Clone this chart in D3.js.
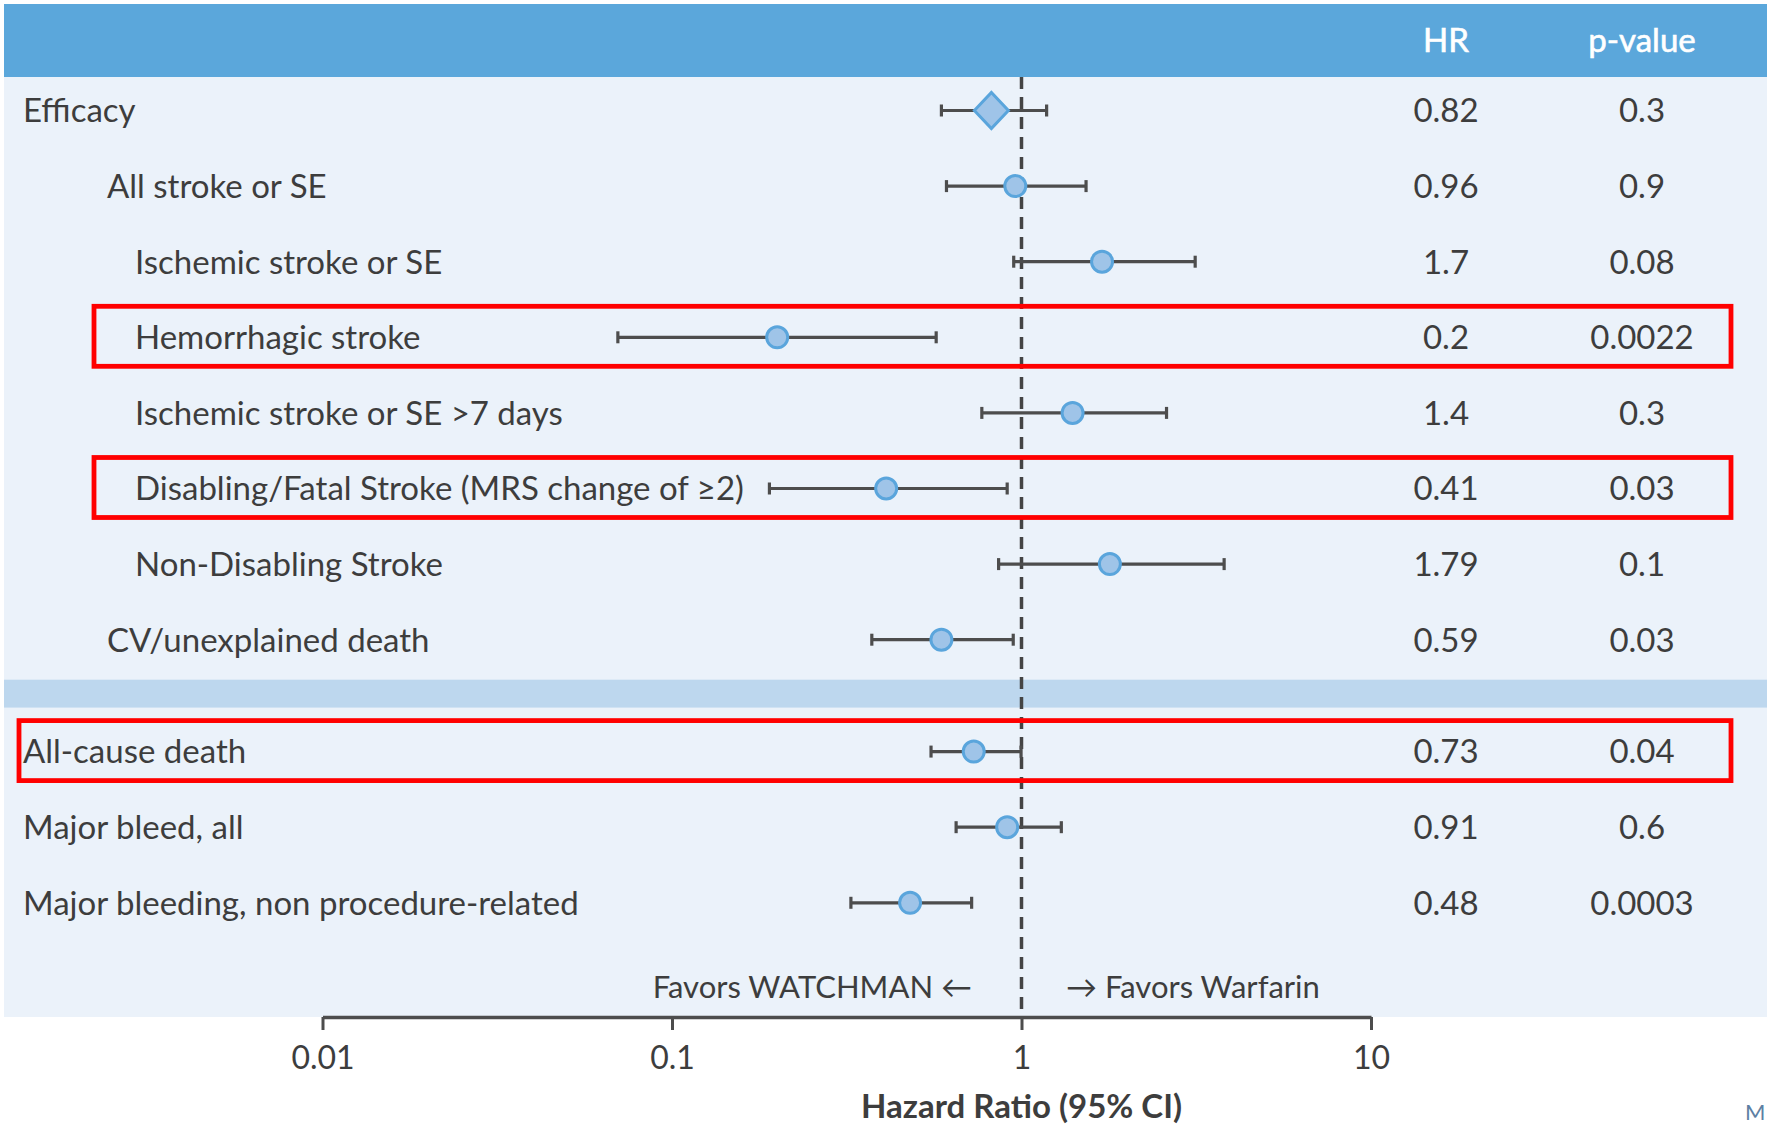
<!DOCTYPE html>
<html>
<head>
<meta charset="utf-8">
<script src="https://cdn.jsdelivr.net/npm/d3@7/dist/d3.min.js"></script>
<style>
  html, body { margin: 0; padding: 0; background: #ffffff; }
  svg { display: block; }
  text { font-family: Lato, "Noto Sans", "Open Sans", sans-serif; }
</style>
</head>
<body>
<svg id="chart" width="1767" height="1124"></svg>
<script>
// Outcomes, WATCHMAN vs warfarin
const outcomes = [
  "Efficacy",
  "All stroke or SE",
  "Ischemic stroke or SE",
  "Hemorrhagic stroke",
  "Ischemic stroke or SE >7 days",
  "Disabling/Fatal Stroke (MRS change of \u22652)",
  "Non-Disabling Stroke",
  "CV/unexplained death",
  "All-cause death",
  "Major bleed, all",
  "Major bleeding, non procedure-related"
];
const indentLevel = [0, 1, 2, 2, 2, 2, 2, 1, 0, 0, 0];
const groupIndex  = [0, 0, 0, 0, 0, 0, 0, 0, 1, 1, 1];
const hrText   = ["0.82", "0.96", "1.7", "0.2", "1.4", "0.41", "1.79", "0.59", "0.73", "0.91", "0.48"];
const ciLower  = [0.59, 0.61, 0.95, 0.07, 0.77, 0.19, 0.86, 0.373, 0.551, 0.65, 0.325];
const ciUpper  = [1.18, 1.53, 3.14, 0.57, 2.60, 0.91, 3.80, 0.947, 0.997, 1.30, 0.72];
const pValues  = ["0.3", "0.9", "0.08", "0.0022", "0.3", "0.03", "0.1", "0.03", "0.04", "0.6", "0.0003"];
const summaryRows = ["Efficacy"];
const highlighted = ["Hemorrhagic stroke", "Disabling/Fatal Stroke (MRS change of \u22652)", "All-cause death"];
const axisTicks = [0.01, 0.1, 1, 10];
const axisTickLabels = ["0.01", "0.1", "1", "10"];

const W = 1767, H = 1124;
const svg = d3.select("#chart");

const panelLeft = 4, headerTop = 4, headerBottom = 77, axisY = 1017;
const hrX = 1446, pX = 1642;
const groupGap = 0.48;

const x = d3.scaleLog().domain([0.01, 10]).range([322.5, 1371]);
const slot = d3.scaleLinear().domain([0, 1]).range([110.5, 186.1]);
const rowY = i => slot(i + groupIndex[i] * groupGap);
const labelX = [23, 107, 135];

const textColor = "#3d3d3d";
const lineColor = "#4d4d4d";
const markFill = "#9fc4e8";
const markStroke = "#5aa5dc";
const fs = 33;

// backgrounds
svg.append("rect").attr("x", panelLeft).attr("y", headerTop)
  .attr("width", W - panelLeft).attr("height", headerBottom - headerTop).attr("fill", "#5ba7db");
svg.append("rect").attr("x", panelLeft).attr("y", headerBottom)
  .attr("width", W - panelLeft).attr("height", axisY - headerBottom).attr("fill", "#ebf2fa");
svg.append("rect").attr("x", panelLeft).attr("y", rowY(7) + 40)
  .attr("width", W - panelLeft).attr("height", rowY(8) - rowY(7) - 84).attr("fill", "#bdd7ee");

// column headers
const head = svg.append("g").attr("fill", "#ffffff").attr("font-size", 33)
  .attr("text-anchor", "middle").attr("stroke", "#ffffff").attr("stroke-width", 0.6);
head.append("text").attr("x", hrX).attr("y", 52).text("HR");
head.append("text").attr("x", pX).attr("y", 52).text("p-value");

// reference line at HR = 1
svg.append("line").attr("x1", x(1)).attr("x2", x(1))
  .attr("y1", headerBottom).attr("y2", axisY)
  .attr("stroke", "#444").attr("stroke-width", 3.5).attr("stroke-dasharray", "12,8");

const rows = svg.append("g").selectAll("g").data(outcomes).join("g")
  .attr("transform", (d, i) => `translate(0,${rowY(i)})`);

rows.append("text").attr("x", (d, i) => labelX[indentLevel[i]]).attr("dy", "0.36em")
  .attr("font-size", fs).attr("fill", textColor).text(d => d);

// confidence intervals
rows.append("line").attr("x1", (d, i) => x(ciLower[i])).attr("x2", (d, i) => x(ciUpper[i]))
  .attr("stroke", lineColor).attr("stroke-width", 3.2);
rows.append("line").attr("x1", (d, i) => x(ciLower[i])).attr("x2", (d, i) => x(ciLower[i]))
  .attr("y1", -6).attr("y2", 6).attr("stroke", lineColor).attr("stroke-width", 3.2);
rows.append("line").attr("x1", (d, i) => x(ciUpper[i])).attr("x2", (d, i) => x(ciUpper[i]))
  .attr("y1", -6).attr("y2", 6).attr("stroke", lineColor).attr("stroke-width", 3.2);

// point estimates
rows.each(function (d, i) {
  const g = d3.select(this);
  const cx = x(+hrText[i]);
  if (summaryRows.includes(d)) {
    g.append("path").attr("d", `M${cx - 17},0 L${cx},-18 L${cx + 17},0 L${cx},18 Z`)
      .attr("fill", markFill).attr("stroke", markStroke).attr("stroke-width", 3);
  } else {
    g.append("circle").attr("cx", cx).attr("r", 10.5)
      .attr("fill", markFill).attr("stroke", markStroke).attr("stroke-width", 3);
  }
});

rows.append("text").attr("x", hrX).attr("dy", "0.36em").attr("text-anchor", "middle")
  .attr("font-size", fs).attr("fill", textColor).text((d, i) => hrText[i]);
rows.append("text").attr("x", pX).attr("dy", "0.36em").attr("text-anchor", "middle")
  .attr("font-size", fs).attr("fill", textColor).text((d, i) => pValues[i]);

// highlight frames
outcomes.forEach((d, i) => {
  if (!highlighted.includes(d)) return;
  const left = indentLevel[i] === 0 ? 19 : 94;
  svg.append("rect").attr("x", left).attr("y", rowY(i) - 31)
    .attr("width", 1731 - left).attr("height", 60)
    .attr("fill", "none").attr("stroke", "#ff0000").attr("stroke-width", 4.8);
});

// direction labels
svg.append("text").attr("x", 972).attr("y", 998).attr("text-anchor", "end")
  .attr("font-size", 31).attr("fill", textColor).text("Favors WATCHMAN \u2190");
svg.append("text").attr("x", 1066).attr("y", 998)
  .attr("font-size", 31).attr("fill", textColor).text("\u2192 Favors Warfarin");

// x axis
const axis = svg.append("g").attr("transform", `translate(0,${axisY})`)
  .call(d3.axisBottom(x).tickValues(axisTicks).tickFormat((d, i) => axisTickLabels[i])
    .tickSize(13).tickSizeOuter(0).tickPadding(16));
axis.select(".domain").attr("stroke", lineColor).attr("stroke-width", 3.5);
axis.selectAll(".tick line").attr("stroke", lineColor).attr("stroke-width", 3);
axis.selectAll(".tick text").attr("font-size", 32).attr("fill", textColor)
  .attr("font-family", "Lato, 'Noto Sans', sans-serif");

svg.append("text").attr("x", x(1)).attr("y", 1118).attr("text-anchor", "middle")
  .attr("font-size", 33).attr("font-weight", 700).attr("fill", textColor).text("Hazard Ratio (95% CI)");

svg.append("text").attr("x", 1745).attr("y", 1120)
  .attr("font-size", 22).attr("fill", "#5d7fa3").text("M");
</script>
</body>
</html>
